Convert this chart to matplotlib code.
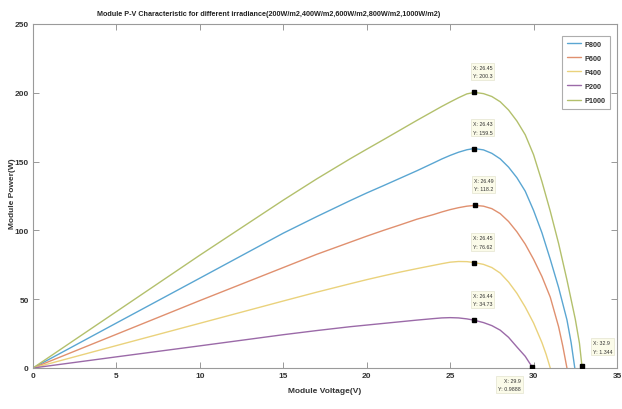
import matplotlib
matplotlib.use("Agg")
import matplotlib.pyplot as plt

# ---- data ----
v_p1000 = [0, 5, 10, 15, 17, 19, 20, 21, 22, 23, 24, 24.5, 25, 25.5, 26, 26.45, 27, 27.5, 28, 28.5, 29, 29.5, 30, 30.5, 31, 31.5, 32, 32.5, 32.75, 32.9, 32.93]
p_p1000 = [0, 41, 82, 122, 137.4, 152, 159, 165.9, 172.9, 179.9, 186.7, 190.1, 193.3, 196.4, 199.2, 200.3, 199.4, 197.3, 193.5, 187.5, 179.5, 169.5, 155, 135.5, 114, 90.5, 64, 35.5, 18, 1.344, 0]

v_p800 = [0, 5, 10, 15, 17, 19, 20, 21, 22, 23, 24, 24.5, 25, 25.5, 26, 26.43, 27, 27.5, 28, 28.5, 29, 29.5, 30, 30.5, 31, 31.5, 32, 32.25, 32.47]
p_p800 = [0, 32.7, 65.3, 98, 110, 121.6, 127.2, 132.5, 137.9, 143.3, 149, 151.9, 154.5, 156.8, 158.6, 159.5, 158.5, 156, 152, 146, 138.3, 128.5, 114.5, 98.3, 79, 58.5, 35, 18.5, 0]

v_p600 = [0, 5, 10, 15, 17, 19, 20, 21, 22, 23, 24, 24.5, 25, 25.5, 26, 26.49, 27, 27.5, 28, 28.5, 29, 29.5, 30, 30.5, 31, 31.5, 31.75, 32.0]
p_p600 = [0, 24.5, 49, 73, 82.6, 91.4, 95.8, 100, 104, 108.1, 111.5, 113.4, 115.1, 116.5, 117.6, 118.2, 117.6, 115.8, 112.2, 106.5, 99, 90, 79, 66.5, 51.5, 30, 16, 0]

v_p400 = [0, 5, 10, 15, 17, 19, 20, 21, 22, 23, 24, 24.5, 25, 25.5, 26, 26.45, 27, 27.5, 28, 28.5, 29, 29.5, 30, 30.5, 30.75, 31.0]
p_p400 = [0, 16.3, 32.5, 48.7, 55.1, 61.2, 64.2, 67, 69.7, 72.2, 74.6, 75.8, 76.9, 77.4, 77.3, 76.62, 75.3, 73, 69, 62.5, 54.3, 44.3, 32.7, 18.5, 10, 0]

v_p200 = [0, 5, 10, 15, 17, 19, 20, 21, 22, 23, 24, 24.5, 25, 25.5, 26, 26.44, 27, 27.5, 28, 28.5, 29, 29.5, 29.9, 29.93]
p_p200 = [0, 8.1, 16.1, 24.2, 27.2, 30, 31.2, 32.4, 33.6, 34.8, 35.9, 36.4, 36.6, 36.4, 35.7, 34.73, 33, 30.8, 27.5, 22.3, 15.3, 8.5, 0.9888, 0]

series_names = ["P800", "P600", "P400", "P200", "P1000"]

# data tips: (x, y)
tip_x = [26.45, 26.43, 26.49, 26.45, 26.44, 29.9, 32.9]
tip_y = [200.3, 159.5, 118.2, 76.62, 34.73, 0.9888, 1.344]
tip_text_x = ["26.45", "26.43", "26.49", "26.45", "26.44", "29.9", "32.9"]
tip_text_y = ["200.3", "159.5", "118.2", "76.62", "34.73", "0.9888", "1.344"]

x_ticks = [0, 5, 10, 15, 20, 25, 30, 35]
y_ticks = [0, 50, 100, 150, 200, 250]

title = "Module P-V Characteristic for different irradiance(200W/m2,400W/m2,600W/m2,800W/m2,1000W/m2)"
xlabel = "Module Voltage(V)"
ylabel = "Module Power(W)"

# ---- styling ----
plt.rcParams["font.family"] = ["Liberation Sans", "DejaVu Sans"]

colors = {
    "P800": "#5aa6d2",
    "P600": "#e0906f",
    "P400": "#ead27c",
    "P200": "#9b6aa8",
    "P1000": "#b3c06c",
}

W, H = 622, 410
fig = plt.figure(figsize=(W / 100, H / 100), dpi=100)
ax = fig.add_axes([33 / W, 1 - 369 / H, (617 - 33) / W, (369 - 25) / H])

data = {
    "P800": (v_p800, p_p800),
    "P600": (v_p600, p_p600),
    "P400": (v_p400, p_p400),
    "P200": (v_p200, p_p200),
    "P1000": (v_p1000, p_p1000),
}
for name in series_names:
    vx, py = data[name]
    ax.plot(vx, py, color=colors[name], lw=1.0, label=name,
            solid_joinstyle="round", solid_capstyle="round")

ax.plot(tip_x, tip_y, linestyle="none", marker="s", ms=3.2, color="black", zorder=5)

box = dict(boxstyle="square,pad=0.35", fc="#fbfbe9", ec="#e4e4d0", lw=0.5)
offsets = [(-1, 10), (-1, 10), (-1, 10), (-1, 10), (-1, 10), (-8, -8), (8, 9)]
has = ["left", "left", "left", "left", "left", "right", "left"]
vas = ["bottom", "bottom", "bottom", "bottom", "bottom", "top", "bottom"]
for i in range(len(tip_x)):
    ax.annotate("X: " + tip_text_x[i] + "\nY: " + tip_text_y[i],
                xy=(tip_x[i], tip_y[i]), xytext=offsets[i], textcoords="offset points",
                fontsize=3.8, ha=has[i], va=vas[i], color="#333333",
                bbox=box, annotation_clip=False, zorder=6, linespacing=1.9)

ax.set_xlim(0, 35)
ax.set_ylim(0, 250)
ax.set_xticks(x_ticks)
ax.set_yticks(y_ticks)
ax.tick_params(direction="in", length=4, width=0.6, color="#888888",
               labelsize=6, labelcolor="#333333", top=True, right=True, pad=3)
for lab in ax.get_xticklabels() + ax.get_yticklabels():
    lab.set_fontweight("bold")
for s in ax.spines.values():
    s.set_color("#9a9a9a")
    s.set_linewidth(0.8)

fig.text(269 / W, 1 - 14 / H, title, fontsize=5.2, fontweight="bold",
         color="#222222", ha="center", va="center")
fig.text(325 / W, 1 - 392 / H, xlabel, fontsize=6, fontweight="bold",
         color="#333333", ha="center", va="center")
fig.text(12 / W, 1 - 194 / H, ylabel, fontsize=6, fontweight="bold",
         color="#333333", ha="center", va="center", rotation=90)

leg = ax.legend(loc="upper right", fontsize=5.3, frameon=True, fancybox=False,
                handlelength=2.0, handletextpad=0.5, borderpad=0.6, labelspacing=0.95,
                bbox_to_anchor=(0.995, 0.976))
leg.get_frame().set_edgecolor("#999999")
leg.get_frame().set_linewidth(0.8)
for t in leg.get_texts():
    t.set_fontweight("bold")
    t.set_color("#333333")

fig.savefig("out.png", dpi=100, facecolor="white")
